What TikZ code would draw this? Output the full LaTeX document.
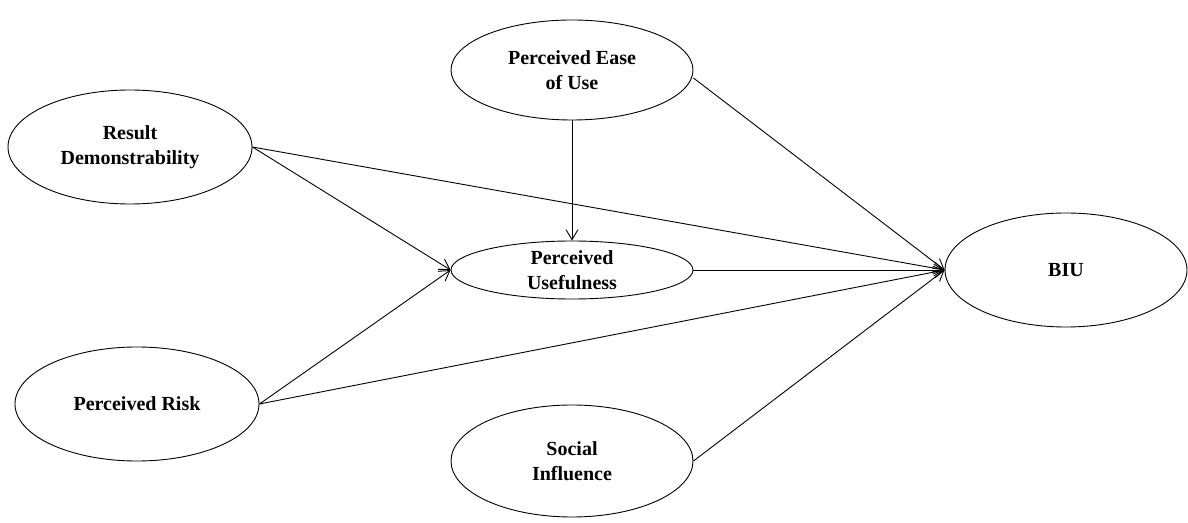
\documentclass[tikz,border=0pt]{standalone}
\usepackage{fontspec}
\setmainfont{Liberation Serif}
\usetikzlibrary{shapes.geometric,arrows.meta}
\tikzset{
  construct/.style={ellipse, draw=black, line width=0.9pt, inner sep=0pt, align=center,
    font=\fontsize{20}{25}\selectfont\bfseries},
  link/.style={draw=black, line width=0.9pt, -{Straight Barb[length=10pt,width=12pt,line width=0.9pt]}}
}
\begin{document}
\begin{tikzpicture}[x=1pt,y=1pt]
\useasboundingbox (0,0) rectangle (1188,522);
% y = 522 - image y
\node[construct, minimum width=244, minimum height=114] (rd) at (130,375) {Result\\Demonstrability};
\node[construct, minimum width=242, minimum height=100] (peou) at (572,452) {Perceived Ease\\of Use};
\node[construct, minimum width=242, minimum height=58] (pu) at (572,252) {Perceived\\Usefulness};
\node[construct, minimum width=242, minimum height=114] (biu) at (1066,252) {BIU};
\node[construct, minimum width=244, minimum height=114] (pr) at (137,118) {Perceived Risk};
\node[construct, minimum width=242, minimum height=112] (si) at (572,61) {Social\\Influence};
\coordinate (peoue) at ([yshift=-8pt]peou.east);
\draw[link] (rd.east) -- (biu.west);
\draw[link] (rd.east) -- (pu.west);
\draw[link] (peou.south) -- (pu.north);
\draw[link] (peoue) -- (biu.west);
\draw[link] (pu.east) -- (biu.west);
\draw[link] (pr.east) -- (pu.west);
\draw[link] (pr.east) -- (biu.west);
\draw[link] (si.east) -- (biu.west);
\end{tikzpicture}
\end{document}
